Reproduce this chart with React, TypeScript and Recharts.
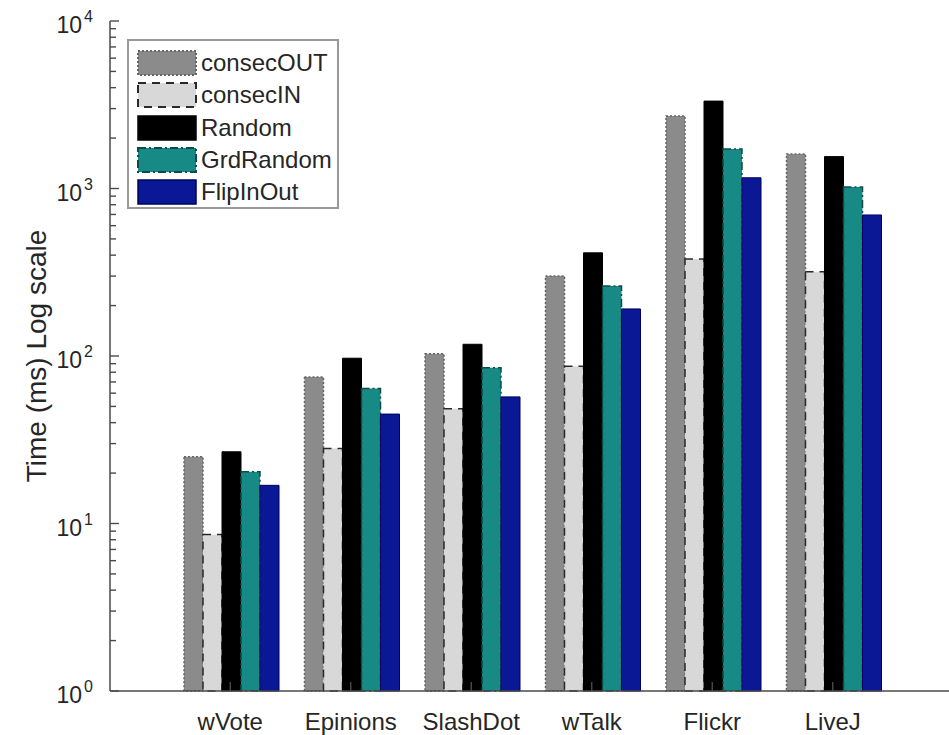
import { BarChart, Bar, XAxis, YAxis, Legend, Label } from 'recharts';

const categories = ['wVote', 'Epinions', 'SlashDot', 'wTalk', 'Flickr', 'LiveJ'];
const consecOUT = [25, 75, 103, 300, 2710, 1607];
const consecIN = [8.6, 28, 48.5, 87, 379, 318];
const random = [26.8, 97, 117.5, 413, 3325, 1550];
const grdRandom = [20.4, 64, 85, 262, 1722, 1021];
const flipInOut = [16.9, 45, 57, 191, 1159, 695];

const majorTicks = [1, 10, 100, 1000, 10000];
const minorSteps = [2, 3, 4, 5, 6, 7, 8, 9];
const allTicks = majorTicks.flatMap((m) => (m === 10000 ? [m] : [m, ...minorSteps.map((s) => s * m)]));

const FONT = '"Liberation Sans", Arial, Helvetica, sans-serif';
const AXIS = '#4a4a4a';
const TEXT = '#262626';

// series look: fill + edge pattern, like the matlab bars
const series = [
  { key: 'consecOUT', values: consecOUT, fill: '#8b8b8b', stroke: '#666666', dash: '2 2', sw: 1.5 },
  { key: 'consecIN', values: consecIN, fill: '#d8d8d8', stroke: '#2a2a2a', dash: '8 6', sw: 1.5 },
  { key: 'Random', values: random, fill: '#000000', stroke: '#000000', dash: undefined, sw: 1 },
  { key: 'GrdRandom', values: grdRandom, fill: '#178a85', stroke: '#0c4b48', dash: '8 3 2 3', sw: 1.5 },
  { key: 'FlipInOut', values: flipInOut, fill: '#0b1896', stroke: '#00005c', dash: undefined, sw: 1 },
];

const data = categories.map((name, i) => {
  const row: Record<string, string | number> = { name };
  series.forEach((s) => {
    row[s.key] = s.values[i];
  });
  return row;
});

// tickSize/tickMargin are 0, so x,y sit on the axis line; ticks point inward
function LeftTick(props: any) {
  const { x, y, payload } = props;
  const v = payload.value as number;
  const major = majorTicks.includes(v);
  return (
    <g>
      <line x1={x} x2={x + (major ? 9 : 6)} y1={y} y2={y} stroke={AXIS} strokeWidth={1.4} />
      {major && (
        <text x={x - 17} y={y + 12} textAnchor="end" fontSize={23} fill={TEXT} fontFamily={FONT}>
          10
          <tspan dx={2} dy={-11} fontSize={16}>
            {Math.round(Math.log10(v))}
          </tspan>
        </text>
      )}
    </g>
  );
}

function RightTick(props: any) {
  const { x, y, payload } = props;
  const major = majorTicks.includes(payload.value);
  return <line x1={x} x2={x - (major ? 9 : 6)} y1={y} y2={y} stroke={AXIS} strokeWidth={1.4} />;
}

function BottomTick(props: any) {
  const { x, y, payload } = props;
  return (
    <g>
      <line x1={x} x2={x} y1={y} y2={y - 9} stroke={AXIS} strokeWidth={1.4} />
      <text x={x} y={y + 39} textAnchor="middle" fontSize={24} fill={TEXT} fontFamily={FONT}>
        {payload.value}
      </text>
    </g>
  );
}

function TopTick(props: any) {
  const { x, y } = props;
  return <line x1={x} x2={x} y1={y} y2={y + 10} stroke={AXIS} strokeWidth={1.4} />;
}

function LegendBox() {
  return (
    <div
      style={{
        width: 212,
        height: 170,
        boxSizing: 'border-box',
        border: '2px solid #999',
        background: '#fff',
        paddingTop: 6,
        paddingLeft: 8,
        fontFamily: FONT,
      }}
    >
      {series.map((s) => (
        <div key={s.key} style={{ display: 'flex', alignItems: 'center', height: 32.3 }}>
          <svg width={60} height={26} style={{ display: 'block' }}>
            <rect
              x={1}
              y={1}
              width={58}
              height={24}
              fill={s.fill}
              stroke={s.stroke}
              strokeWidth={s.sw + 0.5}
              strokeDasharray={s.dash}
            />
          </svg>
          <span style={{ fontSize: 24, color: TEXT, marginLeft: 4, lineHeight: '26px' }}>{s.key}</span>
        </div>
      ))}
    </div>
  );
}

const axisLineStyle = { stroke: AXIS, strokeWidth: 1.5 };

export default function App() {
  return (
    <div style={{ position: 'absolute', left: 0, top: 0, width: 949, height: 735, overflow: 'hidden', background: '#fff' }}>
      <BarChart
        width={955}
        height={735}
        data={data}
        margin={{ top: 21, right: 2, bottom: 0, left: 0 }}
        barCategoryGap={14}
        barGap={0}
        style={{ fontFamily: FONT }}
      >
        <XAxis
          dataKey="name"
          height={44}
          padding={{ left: 60, right: 60 }}
          interval={0}
          tickSize={0}
          tickMargin={0}
          tickLine={false}
          tick={<BottomTick />}
          axisLine={axisLineStyle}
        />
        <XAxis
          xAxisId="top"
          orientation="top"
          dataKey="name"
          height={0}
          padding={{ left: 60, right: 60 }}
          interval={0}
          tickSize={0}
          tickMargin={0}
          tickLine={false}
          tick={<TopTick />}
          axisLine={axisLineStyle}
        />
        <YAxis
          scale="log"
          domain={[1, 10000]}
          ticks={allTicks}
          interval={0}
          width={110}
          tickSize={0}
          tickMargin={0}
          tickLine={false}
          tick={<LeftTick />}
          axisLine={axisLineStyle}
        >
          <Label
            content={(p: any) => {
              const vb = p.viewBox || { x: 0, y: 21, width: 110, height: 670 };
              const cx = 36;
              const cy = vb.y + vb.height / 2;
              return (
                <text
                  x={cx}
                  y={cy}
                  transform={`rotate(-90 ${cx} ${cy})`}
                  textAnchor="middle"
                  dominantBaseline="central"
                  fontSize={28}
                  fill={TEXT}
                  fontFamily={FONT}
                >
                  Time (ms) Log scale
                </text>
              );
            }}
          />
        </YAxis>
        <YAxis
          yAxisId="right"
          orientation="right"
          scale="log"
          domain={[1, 10000]}
          ticks={allTicks}
          interval={0}
          width={0}
          tickSize={0}
          tickMargin={0}
          tickLine={false}
          tick={<RightTick />}
          axisLine={axisLineStyle}
        />
        <Legend
          layout="vertical"
          align="center"
          verticalAlign="middle"
          content={() => <LegendBox />}
          wrapperStyle={{ left: 127, top: 39, width: 212, height: 170 }}
        />
        {series.map((s) => (
          <Bar
            key={s.key}
            dataKey={s.key}
            fill={s.fill}
            stroke={s.stroke}
            strokeWidth={s.sw}
            strokeDasharray={s.dash}
            isAnimationActive={false}
          />
        ))}
      </BarChart>
    </div>
  );
}
